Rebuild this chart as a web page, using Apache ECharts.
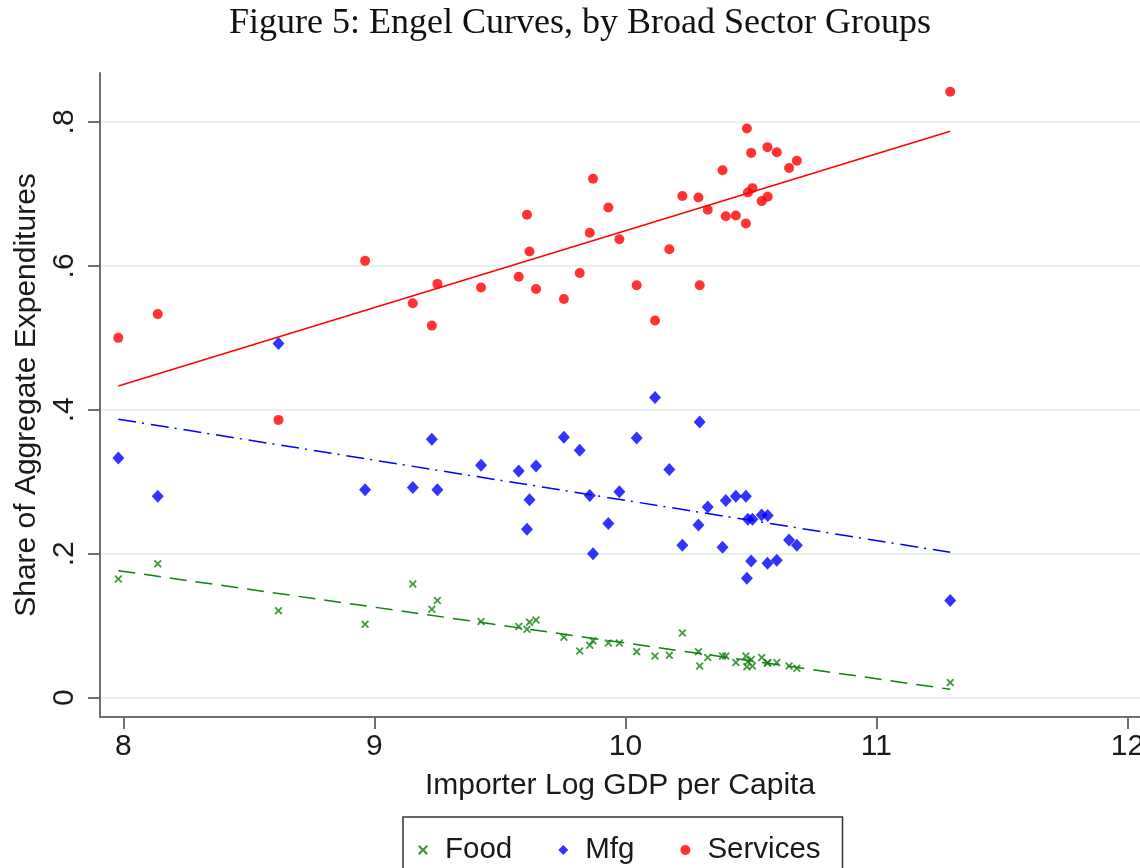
<!DOCTYPE html>
<html><head><meta charset="utf-8">
<script src="https://cdn.jsdelivr.net/npm/echarts@6/dist/echarts.min.js"></script>
<style>html,body{margin:0;padding:0;background:#fff}#c{width:1140px;height:868px}</style>
</head><body><div id="c"></div>
<script>
// Importer log GDP per capita (one entry per country)
const gdp = [7.98, 8.137, 8.618, 8.963, 9.153, 9.229, 9.251, 9.425, 9.575, 9.608,
  9.618, 9.644, 9.755, 9.818, 9.858, 9.871, 9.932, 9.976, 10.045, 10.118,
  10.175, 10.227, 10.291, 10.296, 10.328, 10.387, 10.400, 10.440, 10.480, 10.484,
  10.488, 10.501, 10.506, 10.543, 10.566, 10.567, 10.603, 10.652, 10.683, 11.294];
const services = [0.500, 0.533, 0.386, 0.607, 0.548, 0.517, 0.575, 0.570, 0.585, 0.671,
  0.620, 0.568, 0.554, 0.590, 0.646, 0.721, 0.681, 0.637, 0.573, 0.524,
  0.623, 0.697, 0.695, 0.573, 0.678, 0.733, 0.669, 0.670, 0.659, 0.791,
  0.702, 0.757, 0.708, 0.690, 0.765, 0.696, 0.758, 0.736, 0.746, 0.842];
const mfg = [0.333, 0.280, 0.492, 0.289, 0.292, 0.359, 0.289, 0.323, 0.315, 0.234,
  0.275, 0.322, 0.362, 0.344, 0.281, 0.200, 0.242, 0.286, 0.361, 0.417,
  0.317, 0.212, 0.240, 0.383, 0.265, 0.209, 0.274, 0.280, 0.280, 0.166,
  0.248, 0.190, 0.248, 0.254, 0.187, 0.253, 0.191, 0.219, 0.212, 0.135];
const food = [0.165, 0.186, 0.121, 0.102, 0.158, 0.123, 0.135, 0.106, 0.099, 0.095,
  0.105, 0.108, 0.084, 0.065, 0.073, 0.079, 0.076, 0.076, 0.064, 0.058,
  0.059, 0.090, 0.064, 0.044, 0.056, 0.058, 0.058, 0.049, 0.058, 0.043,
  0.050, 0.053, 0.044, 0.056, 0.048, 0.049, 0.049, 0.044, 0.041, 0.021];
// fitted-line endpoints
const fitX = [7.98, 11.294];
const fitFood = [0.1765, 0.0117];
const fitMfg = [0.387, 0.202];
const fitServices = [0.433, 0.787];
// ticks
const xTickValues = [8, 9, 10, 11, 12];
const xTickLabels = ['8', '9', '10', '11', '12'];
const yTickValues = [0, 0.2, 0.4, 0.6, 0.8];
const yTickLabels = ['0', '.2', '.4', '.6', '.8'];
const seriesNames = ['Food', 'Mfg', 'Services'];
const titleText = 'Figure 5: Engel Curves, by Broad Sector Groups';

const pts = (ys) => gdp.map((x, i) => [x, ys[i]]);
const line = (ys) => fitX.map((x, i) => [x, ys[i]]);
const xMark = 'path://M0,1.6L1.6,0L5,3.4L8.4,0L10,1.6L6.6,5L10,8.4L8.4,10L5,6.6L1.6,10L0,8.4L3.4,5Z';
const diamondMark = 'path://M5,0L10,5L5,10L0,5Z';
const SANS = '"Liberation Sans", Arial, sans-serif';
const GREEN = '#0e820e', BLUE = '#0000ff', RED = '#ff0000';

const fmtX = (v) => { const i = xTickValues.findIndex(t => Math.abs(t - v) < 1e-9); return i >= 0 ? xTickLabels[i] : ''; };
const fmtY = (v) => { const i = yTickValues.findIndex(t => Math.abs(t - v) < 1e-9); return i >= 0 ? yTickLabels[i] : ''; };

const chart = echarts.init(document.getElementById('c'), null, {renderer: 'canvas'});
chart.setOption({
  backgroundColor: '#fff',
  animation: false,
  graphic: [{
    type: 'text', x: 580, y: 24,
    style: {text: titleText, font: '36px "Liberation Serif", "Times New Roman", serif',
      fill: '#111', align: 'center', verticalAlign: 'middle'}
  }],
  grid: {left: 100, top: 73, right: 0, bottom: 151, containLabel: false, outerBoundsMode: 'none'},
  xAxis: {
    type: 'value', min: 7.907, max: 12.05,
    name: 'Importer Log GDP per Capita', nameLocation: 'middle', nameGap: 54,
    nameTextStyle: {fontFamily: SANS, fontSize: 30, color: '#1a1a1a'},
    axisLine: {show: true, onZero: false, lineStyle: {color: '#707070', width: 2}},
    axisTick: {show: true, length: 12, customValues: xTickValues, lineStyle: {color: '#707070', width: 2}},
    axisLabel: {customValues: xTickValues, formatter: fmtX, fontFamily: SANS, fontSize: 30, color: '#1a1a1a', margin: 15},
    splitLine: {show: false}
  },
  yAxis: {
    type: 'value', min: -0.0268, max: 0.868,
    name: 'Share of Aggregate Expenditures', nameLocation: 'middle', nameGap: 52, nameRotate: 90,
    nameTextStyle: {fontFamily: SANS, fontSize: 30, color: '#1a1a1a'},
    axisLine: {show: true, onZero: false, lineStyle: {color: '#707070', width: 2}},
    axisTick: {show: true, length: 12, customValues: yTickValues, lineStyle: {color: '#707070', width: 2}},
    axisLabel: {customValues: yTickValues, formatter: fmtY, rotate: 90, fontFamily: SANS, fontSize: 30, color: '#1a1a1a', margin: 20},
    splitLine: {show: true, lineStyle: {color: '#e8f0f2', width: 2}}
  },
  legend: {
    data: [{name: seriesNames[0], icon: xMark}, {name: seriesNames[1], icon: diamondMark}, {name: seriesNames[2], icon: 'circle'}],
    left: 403, top: 817, orient: 'horizontal',
    itemWidth: 34, itemHeight: 10, itemGap: 46, symbolKeepAspect: true,
    padding: [18, 22, 20, 15],
    borderColor: '#333', borderWidth: 1.5, borderRadius: 0,
    textStyle: {fontFamily: SANS, fontSize: 29.5, color: '#1a1a1a'}
  },
  series: [
    {name: seriesNames[0], type: 'scatter', data: pts(food), symbol: xMark, symbolSize: 8, symbolKeepAspect: true,
      itemStyle: {color: GREEN}, z: 3},
    {name: seriesNames[1], type: 'scatter', data: pts(mfg), symbol: 'diamond', symbolSize: [12, 13],
      itemStyle: {color: BLUE}, z: 3},
    {name: seriesNames[2], type: 'scatter', data: pts(services), symbol: 'circle', symbolSize: 10,
      itemStyle: {color: RED}, z: 3},
    {name: 'fitFood', type: 'line', data: line(fitFood), showSymbol: false, symbol: 'none', silent: true,
      lineStyle: {color: GREEN, width: 1.5, type: [17, 9]}, z: 4},
    {name: 'fitMfg', type: 'line', data: line(fitMfg), showSymbol: false, symbol: 'none', silent: true,
      lineStyle: {color: BLUE, width: 1.5, type: [18, 6, 2, 7]}, z: 4},
    {name: 'fitServices', type: 'line', data: line(fitServices), showSymbol: false, symbol: 'none', silent: true,
      lineStyle: {color: RED, width: 1.5, type: 'solid'}, z: 4}
  ]
});
</script>
</body></html>
